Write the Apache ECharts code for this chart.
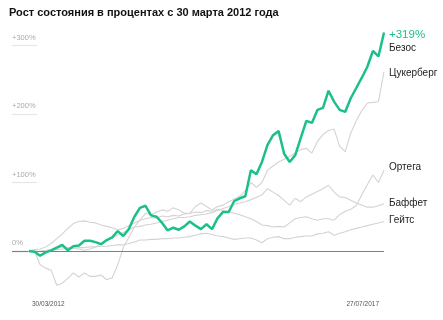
<!DOCTYPE html>
<html>
<head>
<meta charset="utf-8">
<script src="https://cdn.jsdelivr.net/npm/echarts@6/dist/echarts.min.js"></script>
<style>html,body{margin:0;padding:0;background:#fff}#c{width:443px;height:320px}</style>
</head>
<body>
<div id="c"></div>
<script>
var titleText = 'Рост состояния в процентах с 30 марта 2012 года';
var tickLabels = ['30/03/2012', '27/07/2017'];
var yTicks = [0, 100, 200, 300];
var names = ['Безос', 'Цукерберг', 'Ортега', 'Баффет', 'Гейтс'];

var bezos = [0,-1,-7,-2,1,5,9,1,7,8,15,15,13,10,16,20,29,22,32,50,63,66,52,50,41,30,34,31,36,43,37,32,39,32,48,57,57,73,77,80,118,112,130,155,169,175,142,130,140,165,190,187,206,209,234,218,206,203,223,238,253,269,292,284,319];
var zuckerberg = [null,0,-20,-25,-28,-50,-47,-40,-32,-38,-32,-37,-37,-35,-42,-39,-20,5,20,35,45,55,53,57,60,58,63,60,55,55,65,70,65,60,65,67,72,76,80,88,100,93,100,118,124,130,134,138,143,148,150,143,160,170,176,178,153,145,172,190,205,216,217,218,262];
var ortega = [0,2,3,6,11,18,25,33,40,43,44,42,41,38,36,34,31,33,37,41,45,47,49,48,51,50,52,51,54,55,57,56,59,58,61,59,57,55,53,50,47,43,38,37,35,36,35,41,47,49,50,47,45,47,47,45,53,58,61,66,82,97,111,100,118];
var buffett = [0,-1,0,1,2,4,6,5,4,3,1,3,6,11,15,19,23,27,31,35,36,38,39,41,43,45,47,49,49,50,52,53,54,56,59,62,65,68,70,72,75,78,82,91,86,81,74,67,77,72,79,83,87,91,96,86,79,78,74,70,67,64,64,66,69];
var gates = [0,0,-1,-1,1,2,3,4,4,5,5,6,6,7,7,8,9,9,11,13,16,16,17,17,18,18,19,19,20,21,23,25,26,24,22,21,19,17,18,19,19,16,12,18,20,21,18,18,20,21,22,22,25,26,28,23,26,28,31,33,35,37,39,41,43];

var months = [];
(function(){
  var y = 2012, m = 3;
  for (var i = 0; i < bezos.length; i++) {
    months.push(y + '-' + (m < 10 ? '0' + m : m));
    m++; if (m > 12) { m = 1; y++; }
  }
})();

var FONT = '"Liberation Sans", Arial, Helvetica, sans-serif';
var GREEN = '#1cbf8c';
var GRAY = '#d3d3d3';
var last = bezos.length - 1;

function grayLine(name, data, off) {
  return {
    name: name, type: 'line', data: data, xAxisIndex: 0, yAxisIndex: 0,
    symbol: 'none', connectNulls: false, z: 2,
    lineStyle: { color: GRAY, width: 1.1 },
    endLabel: { show: true, formatter: name, color: '#222', fontSize: 10, fontFamily: FONT, distance: 5, offset: off }
  };
}

var chart = echarts.init(document.getElementById('c'), null, { renderer: 'canvas' });
chart.setOption({
  animation: false,
  backgroundColor: '#fff',
  title: {
    text: titleText, left: 4, top: 2,
    textStyle: { fontSize: 11, fontWeight: 'bold', color: '#111', fontFamily: FONT }
  },
  grid: [
    { left: 29, right: 59, top: 31.8, bottom: 23.1, containLabel: false },
    { left: 12, width: 25, top: 45.5, height: 205.5, containLabel: false }
  ],
  xAxis: [
    {
      type: 'category', gridIndex: 0, data: months, boundaryGap: false,
      axisLine: { lineStyle: { color: '#e2e2e2', width: 1 } },
      axisTick: { show: false },
      splitLine: { show: false },
      axisLabel: {
        interval: 0, margin: 4, fontSize: 6.5, color: '#555', fontFamily: FONT,
        alignMinLabel: 'left', alignMaxLabel: 'right',
        formatter: function (v, idx) {
          if (idx === 0) return '{l|' + tickLabels[0] + '}';
          if (idx === last) return '{r|' + tickLabels[1] + '}';
          return '';
        },
        rich: {
          l: { fontSize: 6.5, color: '#555', fontFamily: FONT, padding: [0, 0, 0, 3] },
          r: { fontSize: 6.5, color: '#555', fontFamily: FONT, padding: [0, 5, 0, 0] }
        }
      }
    },
    { type: 'value', gridIndex: 1, show: false, min: 0, max: 1 }
  ],
  yAxis: [
    { type: 'value', gridIndex: 0, min: -67, max: 320, show: false, splitLine: { show: false } },
    {
      type: 'value', gridIndex: 1, min: 0, max: 300, interval: 100,
      axisLine: { show: false }, axisTick: { show: false },
      splitLine: { show: true, lineStyle: { color: ['#808080', '#e6e6e6', '#e6e6e6', '#e6e6e6'], width: 1.2 } },
      axisLabel: {
        inside: true, margin: 0, fontSize: 7.5, color: '#aaa', fontFamily: FONT,
        verticalAlign: 'bottom', padding: [0, 0, 4, 0],
        formatter: function (v) { return v === 0 ? '0%' : '+' + v + '%'; }
      }
    }
  ],
  series: [
    grayLine(names[4], gates, [0, -1]),
    grayLine(names[3], buffett, [0, 0]),
    grayLine(names[2], ortega, [0, -3]),
    grayLine(names[1], zuckerberg, [0, 2]),
    {
      name: 'zero', type: 'line', data: [], xAxisIndex: 0, yAxisIndex: 0, z: 1,
      markLine: {
        silent: true, symbol: 'none', label: { show: false },
        lineStyle: { color: '#808080', width: 1.2, type: 'solid' },
        data: [{ yAxis: 0 }]
      }
    },
    {
      name: names[0], type: 'line', data: bezos, xAxisIndex: 0, yAxisIndex: 0,
      symbol: 'none', z: 5,
      lineStyle: { color: GREEN, width: 2.5 },
      endLabel: {
        show: true, distance: 5, offset: [0, 9],
        formatter: function () { return '{a|+' + bezos[last] + '%}\n{b|' + names[0] + '}'; },
        rich: {
          a: { fontSize: 11.5, color: GREEN, fontFamily: FONT, lineHeight: 13 },
          b: { fontSize: 10, color: '#222', fontFamily: FONT, lineHeight: 13 }
        }
      }
    }
  ]
});
</script>
</body>
</html>
